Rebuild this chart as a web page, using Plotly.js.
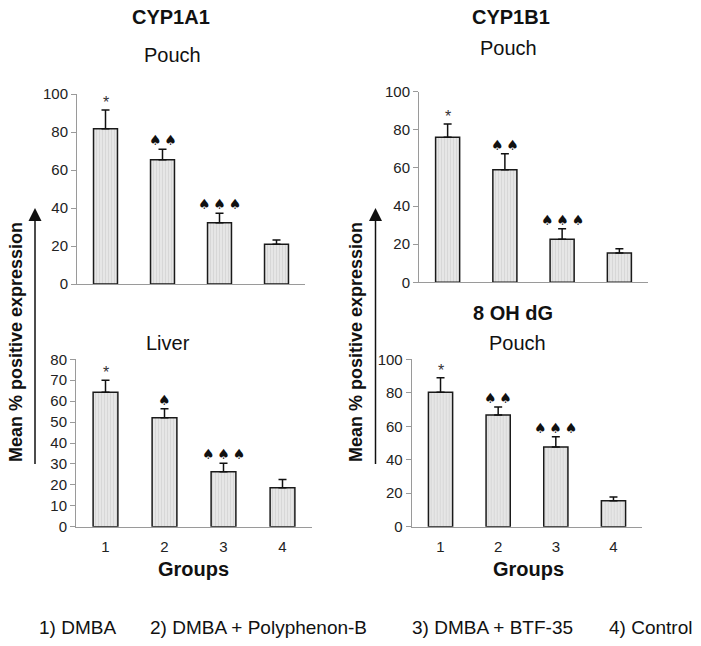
<!DOCTYPE html>
<html>
<head>
<meta charset="utf-8">
<script src="https://cdn.plot.ly/plotly-3.0.1.min.js"></script>
<style>html,body{margin:0;padding:0;background:#fff}#chart{width:701px;height:646px}</style>
</head>
<body>
<div id="chart"></div>
<script>
// ---- data ----
var groups = [1, 2, 3, 4];
var groupLabels = ['1', '2', '3', '4'];
var legendItems = ['1) DMBA', '2) DMBA + Polyphenon-B', '3) DMBA + BTF-35', '4) Control'];

var cyp1a1PouchMean = [81.7, 65.4, 32.3, 20.9];
var cyp1a1PouchErr  = [9.9, 5.5, 4.9, 2.3];
var cyp1a1PouchMarks = ['*', '\u2660\u2009\u2660', '\u2660\u2009\u2660\u2009\u2660', ''];

var cyp1b1PouchMean = [76.1, 59.1, 22.6, 15.4];
var cyp1b1PouchErr  = [7.0, 8.4, 5.5, 2.2];
var cyp1b1PouchMarks = ['*', '\u2660\u2009\u2660', '\u2660\u2009\u2660\u2009\u2660', ''];

var cyp1a1LiverMean = [64.2, 52.1, 26.3, 18.6];
var cyp1a1LiverErr  = [5.8, 4.3, 4.0, 3.9];
var cyp1a1LiverMarks = ['*', '\u2660', '\u2660\u2009\u2660\u2009\u2660', ''];

var ohdgPouchMean = [80.3, 66.7, 47.6, 15.5];
var ohdgPouchErr  = [8.7, 4.8, 6.2, 2.2];
var ohdgPouchMarks = ['*', '\u2660\u2009\u2660', '\u2660\u2009\u2660\u2009\u2660', ''];

// ---- helpers ----
var W = 701, H = 646;
function px(x) { return x / W; }
function py(y) { return 1 - y / H; }
var FONT = 'Liberation Sans, Arial, sans-serif';

function barTrace(mean, err, xa, ya) {
  return {
    type: 'bar', x: groups, y: mean, xaxis: xa, yaxis: ya, width: 0.42,
    marker: {
      color: '#e4e4e4',
      line: {color: '#1a1a1a', width: 1.5},
      pattern: {shape: '|', bgcolor: '#e6e6e6', fgcolor: '#d6d6d6', size: 3, solidity: 0.3}
    },
    error_y: {type: 'data', symmetric: false, array: err, arrayminus: err.map(function(){return 0;}),
      color: '#111', thickness: 1.5, width: 4},
    hoverinfo: 'none', showlegend: false
  };
}

var traces = [
  barTrace(cyp1a1PouchMean, cyp1a1PouchErr, 'x', 'y'),
  barTrace(cyp1b1PouchMean, cyp1b1PouchErr, 'x2', 'y2'),
  barTrace(cyp1a1LiverMean, cyp1a1LiverErr, 'x3', 'y3'),
  barTrace(ohdgPouchMean, ohdgPouchErr, 'x4', 'y4')
];

function xAxis(domain, anchor, showLabels) {
  return {
    domain: domain, anchor: anchor, range: [0.5, 4.5],
    tickvals: groups, ticktext: groupLabels, showticklabels: showLabels,
    ticks: showLabels ? 'outside' : '', ticklen: 6, tickcolor: 'rgba(0,0,0,0)',
    showline: true, linecolor: '#9a9a9a', linewidth: 1,
    showgrid: false, zeroline: false, fixedrange: true,
    tickfont: {family: FONT, size: 15, color: '#222'}
  };
}
function yAxis(domain, anchor, max, dtick) {
  return {
    domain: domain, anchor: anchor, range: [0, max], dtick: dtick, tick0: 0,
    ticks: 'outside', ticklen: 5, tickcolor: '#9a9a9a', tickwidth: 1,
    showline: true, linecolor: '#9a9a9a', linewidth: 1,
    showgrid: false, zeroline: false, fixedrange: true,
    tickfont: {family: FONT, size: 15, color: '#222'}
  };
}

var annotations = [];
function markAnn(mean, err, marks, xa, ya) {
  for (var i = 0; i < groups.length; i++) {
    if (!marks[i]) continue;
    var isStar = marks[i] === '*';
    annotations.push({
      x: groups[i], y: mean[i] + err[i], xref: xa, yref: ya, text: marks[i],
      showarrow: false, xanchor: 'center', yanchor: 'bottom', yshift: isStar ? -3 : -1,
      font: isStar ? {family: FONT, size: 16, color: '#333'} : {family: 'DejaVu Sans', size: 14, color: '#111'}
    });
  }
}
markAnn(cyp1a1PouchMean, cyp1a1PouchErr, cyp1a1PouchMarks, 'x', 'y');
markAnn(cyp1b1PouchMean, cyp1b1PouchErr, cyp1b1PouchMarks, 'x2', 'y2');
markAnn(cyp1a1LiverMean, cyp1a1LiverErr, cyp1a1LiverMarks, 'x3', 'y3');
markAnn(ohdgPouchMean, ohdgPouchErr, ohdgPouchMarks, 'x4', 'y4');

function txt(t, x, y, size, bold, extra) {
  var a = {text: t, x: px(x), y: py(y), xref: 'paper', yref: 'paper', showarrow: false,
    xanchor: 'center', yanchor: 'middle',
    font: {family: FONT, size: size, color: '#111', weight: bold ? 'bold' : 'normal'}};
  if (extra) for (var k in extra) a[k] = extra[k];
  annotations.push(a);
}
txt('CYP1A1', 171, 17, 20, true);
txt('Pouch', 172, 55, 20, false);
txt('CYP1B1', 511, 17, 20, true);
txt('Pouch', 508, 48, 20, false);
txt('Liver', 168, 343, 20, false);
txt('8 OH dG', 513, 313, 20, true);
txt('Pouch', 517, 343, 20, false);
txt('Groups', 193, 569, 20, true);
txt('Groups', 528, 569, 20, true);
txt('Mean % positive expression', 16, 342, 18, true, {textangle: -90});
txt('Mean % positive expression', 356, 342, 18, true, {textangle: -90});
var legendX = [37, 148, 410, 607];
for (var j = 0; j < legendItems.length; j++) {
  annotations.push({text: legendItems[j], x: px(legendX[j]), y: py(627), xref: 'paper', yref: 'paper',
    showarrow: false, xanchor: 'left', yanchor: 'middle',
    font: {family: FONT, size: 19, color: '#111'}});
}

function arrowShapes(x) {
  return [
    {type: 'line', xref: 'paper', yref: 'paper', x0: px(x), x1: px(x), y0: py(464), y1: py(219),
      line: {color: '#111', width: 1.5}},
    {type: 'path', xref: 'paper', yref: 'paper',
      path: 'M' + px(x) + ',' + py(208) + ' L' + px(x - 6.5) + ',' + py(221) + ' L' + px(x + 6.5) + ',' + py(221) + ' Z',
      fillcolor: '#111', line: {width: 0}}
  ];
}

var layout = {
  width: W, height: H, margin: {l: 0, r: 0, t: 0, b: 0},
  paper_bgcolor: '#fff', plot_bgcolor: 'rgba(0,0,0,0)',
  bargap: 0,
  xaxis:  xAxis([px(77), px(305)], 'y', false),
  yaxis:  yAxis([py(284), py(94)], 'x', 100, 20),
  xaxis2: xAxis([px(419), px(648)], 'y2', false),
  yaxis2: yAxis([py(282.3), py(91.7)], 'x2', 100, 20),
  xaxis3: xAxis([px(76), px(312)], 'y3', true),
  yaxis3: yAxis([py(526.7), py(359.3)], 'x3', 80, 10),
  xaxis4: xAxis([px(411.7), px(642.3)], 'y4', true),
  yaxis4: yAxis([py(526.7), py(359.3)], 'x4', 100, 20),
  annotations: annotations,
  shapes: arrowShapes(35).concat(arrowShapes(375.5))
};

Plotly.newPlot('chart', traces, layout, {staticPlot: true, displayModeBar: false});
</script>
</body>
</html>
